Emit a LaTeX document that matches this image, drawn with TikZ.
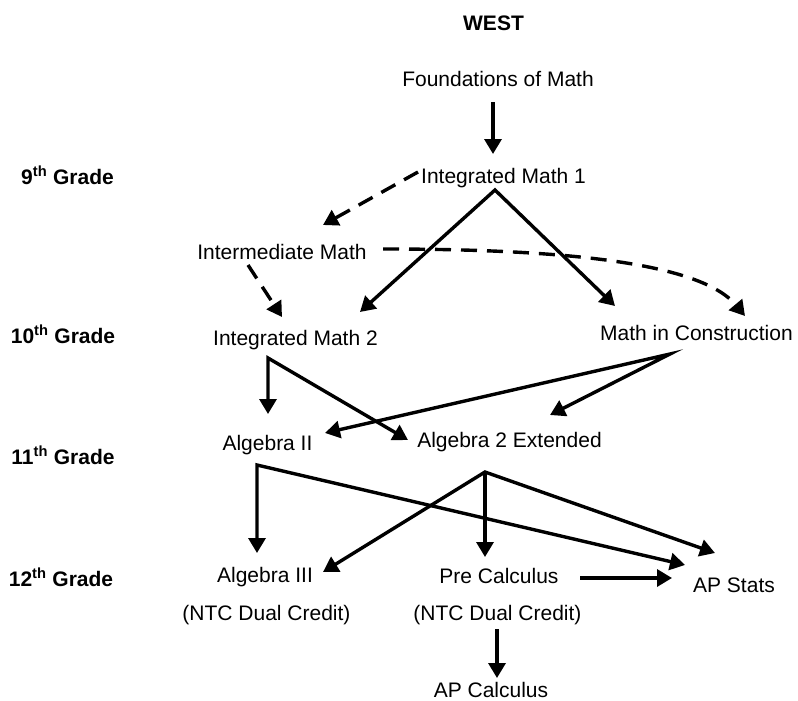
\documentclass[tikz,border=0pt]{standalone}
\usepackage{fontspec}
\setmainfont{Liberation Sans}
\usetikzlibrary{arrows.meta}
\begin{document}
\begin{tikzpicture}[x=1pt,y=-1pt,
  lbl/.style={inner sep=0pt, anchor=base, font=\fontsize{21}{25}\selectfont},
  grade/.style={inner sep=0pt, anchor=base, font=\fontsize{21}{25}\selectfont\bfseries},
  conn/.style={line width=3.4pt, line join=miter, -{Triangle[length=15pt,width=17pt]}},
  dconn/.style={conn, dash pattern=on 16pt off 10pt},
  both/.style={line width=3.4pt, line join=miter, {Triangle[length=15pt,width=17pt]}-{Triangle[length=15pt,width=17pt]}},
]
\useasboundingbox[fill=white] (0,0) rectangle (798,701);

% labels
\node[grade] (west) at (493.5,31) {WEST};
\node[lbl] (fom) at (498,86) {Foundations of Math};
\node[lbl] (im1) at (503.5,183) {Integrated Math 1};
\node[grade] (g9) at (67.5,184) {9\textsuperscript{th} Grade};
\node[lbl] (intm) at (282,259) {Intermediate Math};
\node[grade] (g10) at (63,343) {10\textsuperscript{th} Grade};
\node[lbl] (im2) at (295.5,345) {Integrated Math 2};
\node[lbl] (mic) at (696.5,340) {Math in Construction};
\node[grade] (g11) at (63,464) {11\textsuperscript{th} Grade};
\node[lbl] (alg2) at (267.5,450) {Algebra II};
\node[lbl] (a2e) at (509.5,447) {Algebra 2 Extended};
\node[grade] (g12) at (61,586) {12\textsuperscript{th} Grade};
\node[lbl] (alg3) at (265,582) {Algebra III};
\node[lbl] (ntc1) at (266.5,620) {(NTC Dual Credit)};
\node[lbl] (pc) at (499,583) {Pre Calculus};
\node[lbl] (ntc2) at (497.5,620) {(NTC Dual Credit)};
\node[lbl] (aps) at (734,592) {AP Stats};
\node[lbl] (apc) at (491,697) {AP Calculus};

% attachment points
\coordinate (fom-out) at (493,102);
\coordinate (im1-in) at (493,154);
\coordinate (im1-d) at (418,172);
\coordinate (im1-out) at (495,190);
\coordinate (intm-in) at (323,225);
\coordinate (intm-r) at (383,249);
\coordinate (intm-b) at (248,265);
\coordinate (im2-in1) at (282,317);
\coordinate (im2-in2) at (360,312);
\coordinate (mic-in1) at (615,306);
\coordinate (mic-in2) at (745,316);
\coordinate (im2-out) at (268,358);
\coordinate (alg2-in1) at (268,414);
\coordinate (a2e-in1) at (408,440);
\coordinate (mic-out) at (670,354);
\coordinate (a2e-in2) at (550,415);
\coordinate (alg2-in2) at (325,433);
\coordinate (alg2-out) at (257,465);
\coordinate (alg3-in1) at (257,553);
\coordinate (aps-in1) at (685,565);
\coordinate (a2e-out) at (485,472);
\coordinate (alg3-in2) at (323,572);
\coordinate (pc-in) at (485,557);
\coordinate (aps-in2) at (715,553);
\coordinate (pc-out) at (580,578);
\coordinate (aps-in3) at (672,578);
\coordinate (ntc2-out) at (497,629);
\coordinate (apc-in) at (497,678);

% connectors
\draw[conn] (fom-out) -- (im1-in);
\draw[dconn] (im1-d) -- (intm-in);
\draw[both] (im2-in2) -- (im1-out) -- (mic-in1);
\draw[dconn] (intm-r) .. controls (560,249) and (700,262) .. (mic-in2);
\draw[dconn] (intm-b) -- (im2-in1);
\draw[both] (alg2-in1) -- (im2-out) -- (a2e-in1);
\draw[both] (alg2-in2) -- (mic-out) -- (a2e-in2);
\draw[both] (alg3-in1) -- (alg2-out) -- (aps-in1);
\draw[both] (alg3-in2) -- (a2e-out) -- (aps-in2);
\draw[conn] (a2e-out) -- (pc-in);
\draw[conn] (pc-out) -- (aps-in3);
\draw[conn] (ntc2-out) -- (apc-in);
\end{tikzpicture}
\end{document}
